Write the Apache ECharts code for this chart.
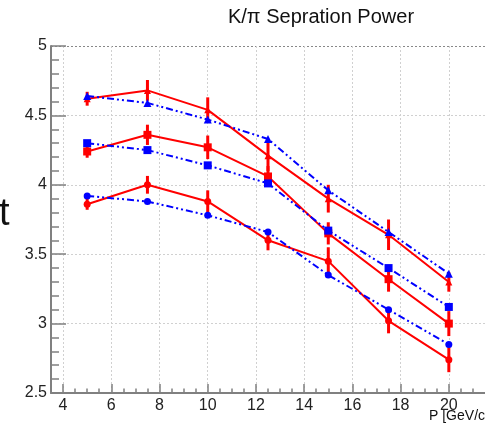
<!DOCTYPE html>
<html>
<head>
<meta charset="utf-8">
<script src="https://cdn.jsdelivr.net/npm/echarts@6/dist/echarts.min.js"></script>
<style>
html,body{margin:0;padding:0;background:#fff;}
#chart{width:485px;height:423px;}
</style>
</head>
<body>
<div id="chart"></div>
<script>
// ---- data ----
var momenta = [5, 7.5, 10, 12.5, 15, 17.5, 20];
var redTriangle = [4.62, 4.68, 4.54, 4.21, 3.90, 3.64, 3.30];
var redTriangleErr = [0.05, 0.075, 0.09, 0.11, 0.10, 0.11, 0.07];
var redSquare = [4.24, 4.36, 4.27, 4.06, 3.65, 3.32, 3.00];
var redSquareErr = [0.045, 0.073, 0.085, 0.075, 0.08, 0.09, 0.09];
var redCircle = [3.86, 4.00, 3.88, 3.60, 3.45, 3.02, 2.74];
var redCircleErr = [0.04, 0.064, 0.08, 0.072, 0.10, 0.09, 0.09];
var blueTriangle = [4.64, 4.59, 4.47, 4.33, 3.96, 3.66, 3.36];
var blueSquare = [4.30, 4.25, 4.14, 4.01, 3.67, 3.40, 3.12];
var blueCircle = [3.92, 3.88, 3.78, 3.66, 3.35, 3.10, 2.85];
var xMajorTicks = [4, 6, 8, 10, 12, 14, 16, 18, 20];
var xMinorTicks = [4, 4.5, 5, 5.5, 6, 6.5, 7, 7.5, 8, 8.5, 9, 9.5, 10, 10.5, 11, 11.5, 12, 12.5, 13, 13.5, 14, 14.5, 15, 15.5, 16, 16.5, 17, 17.5, 18, 18.5, 19, 19.5, 20, 20.5, 21];
var titleText = 'K/\u03c0 Sepration Power';
var xTitle = 'P [GeV/c]';

function pts(vals) { return momenta.map(function (x, i) { return [x, vals[i]]; }); }
function errPts(vals, errs) { return momenta.map(function (x, i) { return [x, vals[i], errs[i]]; }); }

function errSeries(vals, errs) {
  return {
    type: 'custom',
    data: errPts(vals, errs),
    z: 2,
    renderItem: function (params, api) {
      var x = api.value(0), y = api.value(1), e = api.value(2);
      var p1 = api.coord([x, y + e]);
      var p2 = api.coord([x, y - e]);
      return {
        type: 'line',
        shape: { x1: p1[0], y1: p1[1], x2: p2[0], y2: p2[1] },
        style: { stroke: '#ff0000', lineWidth: 3 }
      };
    }
  };
}
function redLine(vals, sym, size) {
  return {
    type: 'line', data: pts(vals), symbol: sym, symbolSize: size,
    showAllSymbol: true, z: 3,
    lineStyle: { color: '#ff0000', width: 2 },
    itemStyle: { color: '#ff0000' }
  };
}
function blueLine(vals, sym, size) {
  return {
    type: 'line', data: pts(vals), symbol: sym, symbolSize: size,
    showAllSymbol: true, z: 4,
    lineStyle: { color: '#0000ff', width: 2, type: [7, 3, 2, 3, 2, 3] },
    itemStyle: { color: '#0000ff' }
  };
}

var chart = echarts.init(document.getElementById('chart'), null, { renderer: 'canvas' });
var font = 'Liberation Sans, Arial, sans-serif';
chart.setOption({
  animation: false,
  backgroundColor: '#ffffff',
  textStyle: { fontFamily: font },
  grid: { left: 51, top: 46, bottom: 30, right: -3, containLabel: false },
  xAxis: [{
    type: 'value', min: 3.5, max: 21.5,
    axisLine: { show: true, lineStyle: { color: '#808080', width: 2 } },
    axisTick: { show: true, inside: true, length: 9, customValues: xMajorTicks, lineStyle: { color: '#808080', width: 1.5 } },
    axisLabel: { show: true, customValues: xMajorTicks, fontSize: 16, color: '#222', margin: 5, fontFamily: font },
    splitLine: { show: true, lineStyle: { color: '#d0d0d0', type: [2, 2], width: 1 } }
  }, {
    type: 'value', min: 3.5, max: 21.5, position: 'bottom',
    axisLine: { show: false },
    axisTick: { show: true, inside: true, length: 4.5, customValues: xMinorTicks, lineStyle: { color: '#808080', width: 1.5 } },
    axisLabel: { show: false },
    splitLine: { show: false }
  }],
  yAxis: {
    type: 'value', min: 2.5, max: 5, interval: 0.5,
    axisLine: { show: true, lineStyle: { color: '#808080', width: 2 } },
    axisTick: { show: true, inside: true, length: 15, lineStyle: { color: '#808080', width: 1.5 } },
    minorTick: { show: true, splitNumber: 5, length: 8, lineStyle: { color: '#808080', width: 1.5 } },
    axisLabel: { fontSize: 16, color: '#222', margin: 4, fontFamily: font,
      formatter: function (v) { return String(v); } },
    splitLine: { show: true, lineStyle: { color: ['#d0d0d0', '#d0d0d0', '#d0d0d0', '#d0d0d0', '#d0d0d0', '#888888'], type: [2, 2], width: 1 } }
  },
  graphic: [
    { type: 'text', x: 321, y: 7, style: { text: titleText, fontSize: 20, fontFamily: font, fill: '#111', textAlign: 'center', textVerticalAlign: 'top' } },
    { type: 'text', x: -1, y: 215, style: { text: 't', fontSize: 38, fontFamily: font, fill: '#111', textAlign: 'left', textVerticalAlign: 'middle' } },
    { type: 'text', x: 429, y: 409, style: { text: xTitle, fontSize: 14, fontFamily: font, fill: '#111', textAlign: 'left', textVerticalAlign: 'top' } }
  ],
  series: [
    errSeries(redTriangle, redTriangleErr),
    errSeries(redSquare, redSquareErr),
    errSeries(redCircle, redCircleErr),
    redLine(redTriangle, 'triangle', 7),
    redLine(redSquare, 'rect', 8),
    redLine(redCircle, 'circle', 7),
    blueLine(blueTriangle, 'triangle', 8),
    blueLine(blueSquare, 'rect', 8),
    blueLine(blueCircle, 'circle', 7)
  ]
});
</script>
</body>
</html>
